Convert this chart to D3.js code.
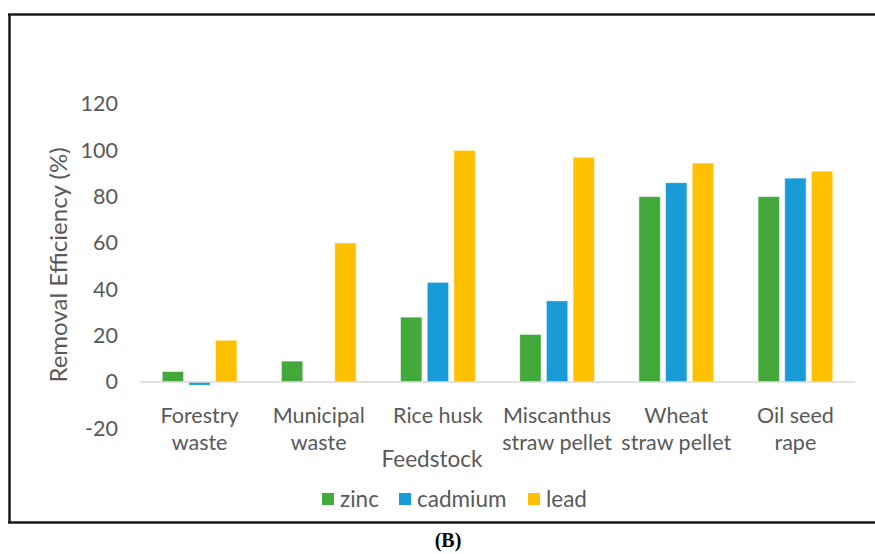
<!DOCTYPE html>
<html>
<head>
<meta charset="utf-8">
<script src="https://cdn.jsdelivr.net/npm/d3@7"></script>
<style>
  body { margin: 0; background: #fff; }
  svg { display: block; }
</style>
</head>
<body>
<div id="chart"></div>
<script>
// chart data
const feedstocks = [
    ["Forestry", "waste"],
    ["Municipal", "waste"],
    ["Rice husk"],
    ["Miscanthus", "straw pellet"],
    ["Wheat", "straw pellet"],
    ["Oil seed", "rape"]
]
const metals = ["zinc", "cadmium", "lead"]
const zinc = [4.5, 9, 28, 20.5, 80, 80]
const cadmium = [-1.4, 0, 43, 35, 86, 88]
const lead = [18, 60, 100, 97, 94.5, 91]
const yTicks = [-20, 0, 20, 40, 60, 80, 100, 120]

const width = 875, height = 554
const colors = { zinc: "#43a93b", cadmium: "#189bd6", lead: "#ffc000", text: "#595959" }
const font = "Lato, 'Open Sans', sans-serif"

const svg = d3.select("#chart")
    .append("svg")
    .attr("width", width)
    .attr("height", height)

// frame around the figure
const frame = svg.append("g")
    .attr("fill", "none")
    .attr("stroke", "#1a1a1a")
    .attr("stroke-width", 2.5)
frame.append("line").attr("x1", 8).attr("x2", width).attr("y1", 14.5).attr("y2", 14.5)
frame.append("line").attr("x1", 9.5).attr("x2", 9.5).attr("y1", 14).attr("y2", 523)
frame.append("line").attr("x1", 8).attr("x2", width).attr("y1", 522.5).attr("y2", 522.5)

// scales
const x = d3.scaleBand()
    .domain(d3.range(feedstocks.length))
    .range([140, 855])
    .padding(0)

const inner = d3.scaleBand()
    .domain(metals)
    .range([-40, 40])
    .paddingInner(0.2)
    .paddingOuter(0.1)

const y = d3.scaleLinear()
    .domain([-20, 120])
    .range([428.3, 104])

// y axis labels (no axis line, no gridlines)
const yAxis = svg.append("g")
    .attr("transform", "translate(118,0)")
    .call(d3.axisLeft(y).tickValues(yTicks).tickSize(0).tickPadding(0).tickFormat(d => String(d)))
yAxis.select(".domain").remove()
yAxis.selectAll("text")
    .attr("font-family", font)
    .attr("font-size", 21.5)
    .attr("fill", colors.text)

// bars
const series = metals.map(m => ({ key: m, values: m === "zinc" ? zinc : m === "cadmium" ? cadmium : lead }))

series.forEach(s => {
    svg.append("g")
        .selectAll("rect")
        .data(s.values)
        .join("rect")
        .attr("x", (d, i) => x(i) + x.bandwidth() / 2 + inner(s.key))
        .attr("width", inner.bandwidth())
        .attr("y", d => y(Math.max(0, d)))
        .attr("height", d => Math.abs(y(d) - y(0)))
        .attr("fill", colors[s.key])
        .attr("stroke", "rgba(255,255,255,0.55)")
        .attr("stroke-width", 0.8)
})

// zero line
svg.append("line")
    .attr("x1", x.range()[0])
    .attr("x2", x.range()[1])
    .attr("y1", y(0))
    .attr("y2", y(0))
    .attr("stroke", "#d9d9d9")
    .attr("stroke-width", 1.5)

// category labels
const cats = svg.append("g")
    .attr("font-family", font)
    .attr("font-size", 21.5)
    .attr("fill", colors.text)
    .attr("text-anchor", "middle")

feedstocks.forEach((lines, i) => {
    lines.forEach((t, j) => {
        cats.append("text")
            .attr("x", x(i) + x.bandwidth() / 2)
            .attr("y", 423 + j * 27)
            .text(t)
    })
})

// axis titles
svg.append("text")
    .attr("x", 432)
    .attr("y", 467)
    .attr("text-anchor", "middle")
    .attr("font-family", font)
    .attr("font-size", 22.5)
    .attr("fill", colors.text)
    .text("Feedstock")

svg.append("text")
    .attr("transform", "translate(67," + 265 + ") rotate(-90)")
    .attr("text-anchor", "middle")
    .attr("font-family", font)
    .attr("font-size", 24)
    .attr("fill", colors.text)
    .text("Removal Efficiency (%)")

// legend
const legendX = [322, 399, 528]
const legend = svg.append("g")
    .selectAll("g")
    .data(metals)
    .join("g")
    .attr("transform", (d, i) => `translate(${legendX[i]},493)`)

legend.append("rect")
    .attr("width", 12)
    .attr("height", 12)
    .attr("fill", d => colors[d])

legend.append("text")
    .attr("x", 18)
    .attr("y", 13.5)
    .attr("font-family", font)
    .attr("font-size", 22.5)
    .attr("fill", colors.text)
    .text(d => d)

// panel caption
svg.append("text")
    .attr("x", 448)
    .attr("y", 547)
    .attr("text-anchor", "middle")
    .attr("font-family", "'Liberation Serif', serif")
    .attr("font-size", 20)
    .attr("font-weight", "bold")
    .attr("fill", "#000")
    .text("(B)")
</script>
</body>
</html>
